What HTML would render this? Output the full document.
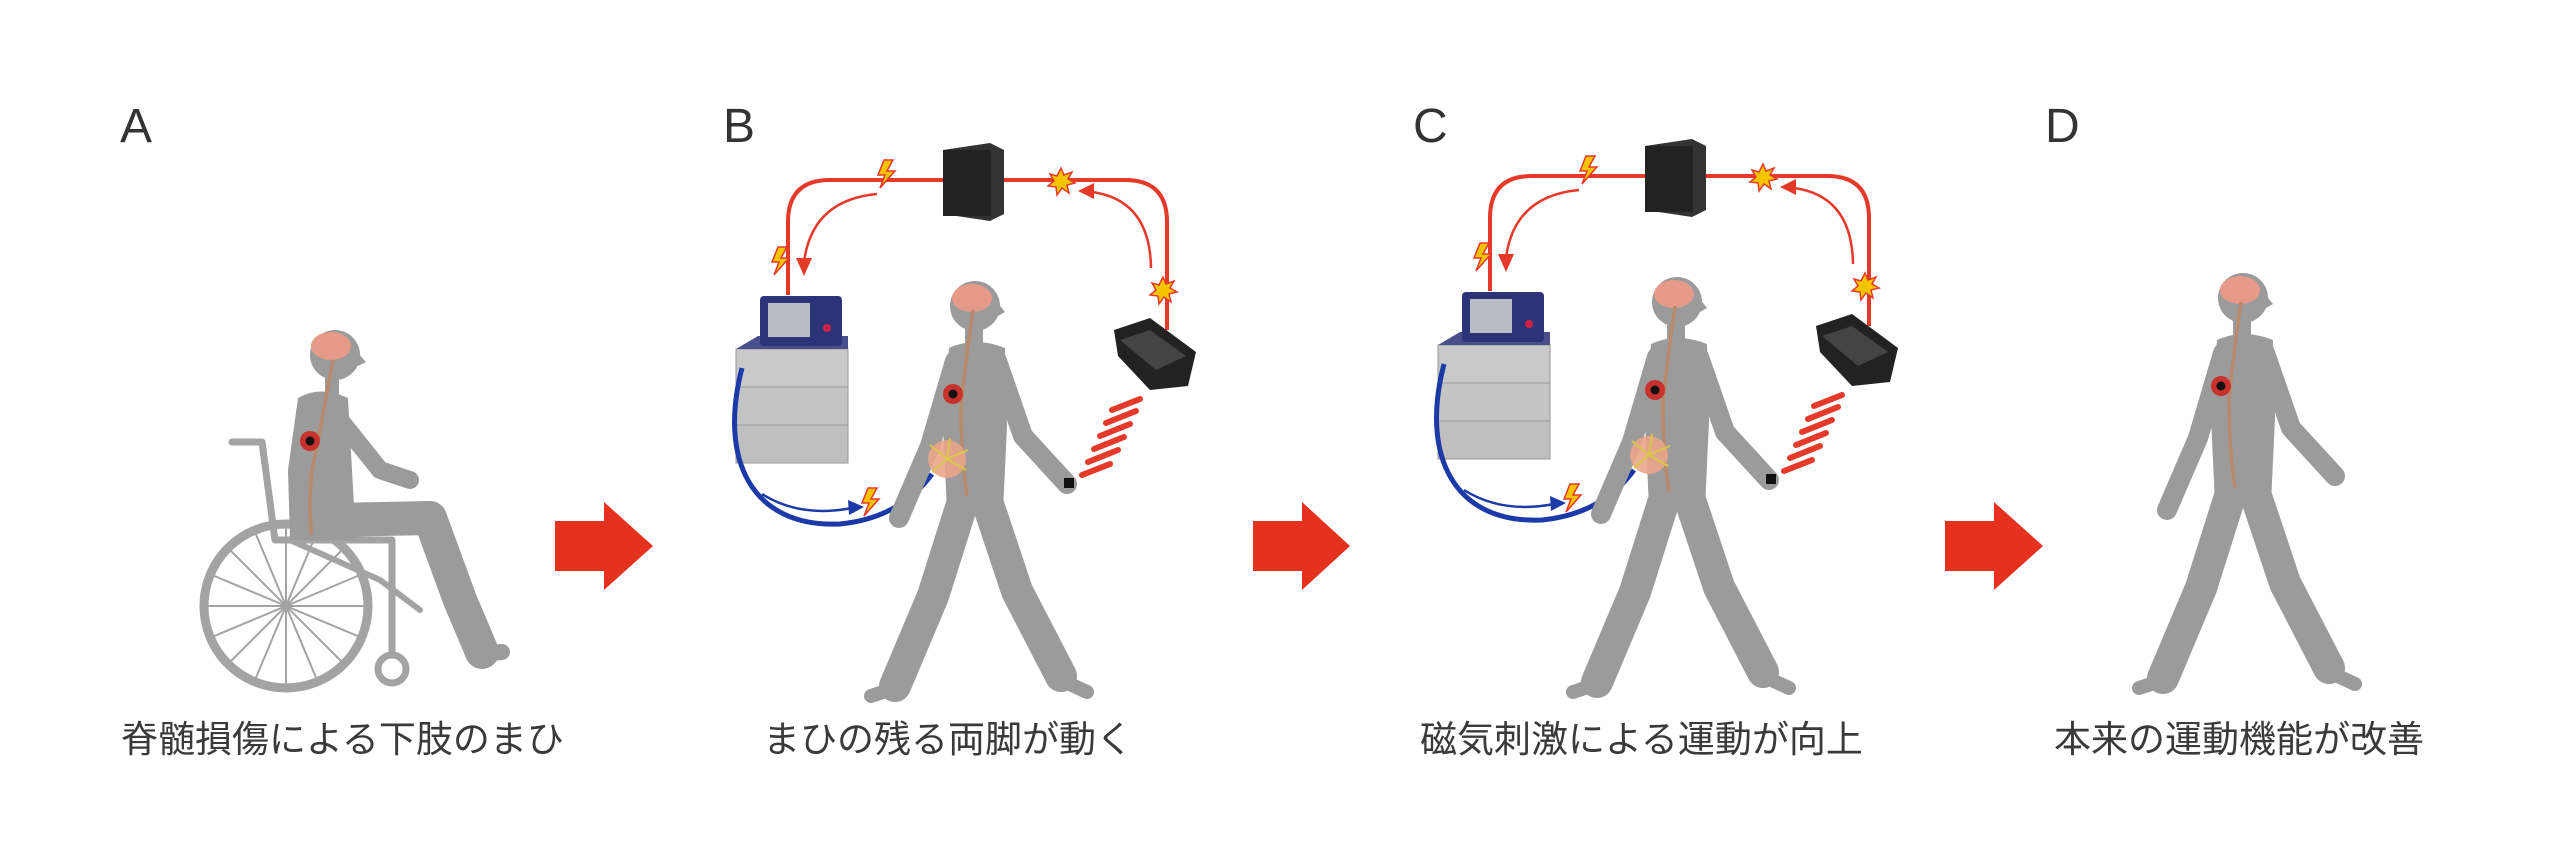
<!DOCTYPE html>
<html><head><meta charset="utf-8"><style>
html,body{margin:0;padding:0;background:#fff;}
body{width:2560px;height:856px;overflow:hidden;}
svg{display:block;}
.lbl{font-family:"Liberation Sans",sans-serif;font-size:48px;fill:#333;}
.cap{font-family:"Liberation Sans","Noto Sans CJK JP",sans-serif;font-size:37px;fill:#3a3a3a;}
</style></head><body>
<svg width="2560" height="856" viewBox="0 0 2560 856" xmlns="http://www.w3.org/2000/svg">
<defs>
<g id="walker">
  <g fill="none" stroke="#9b9b9b" stroke-linecap="round" stroke-linejoin="round">
    <polyline points="-20,55 -45,140 -76,212" stroke-width="20"/>
    <polyline points="-12,195 -42,290 -80,380" stroke-width="32"/>
    <polyline points="-80,382 -104,390" stroke-width="14"/>
    <polyline points="12,195 42,285 86,370" stroke-width="32"/>
    <polyline points="86,374 112,386" stroke-width="14"/>
    <polyline points="22,55 48,130 92,178" stroke-width="20"/>
  </g>
  <rect x="-10" y="15" width="18" height="30" fill="#9b9b9b"/>
  <path d="M-26,42 Q0,30 30,42 L32,120 L28,205 L-28,205 L-32,120 Z" fill="#9b9b9b"/>
  <circle cx="0" cy="0" r="25" fill="#9b9b9b"/>
  <path d="M22,-4 L30,6 L23,10 Z" fill="#9b9b9b"/>
  <ellipse cx="-3" cy="-8" rx="20" ry="14" fill="#e79a88"/>
  <path d="M-2,4 Q-10,60 -14,100 Q-14,150 -8,190" stroke="#b98a6c" stroke-width="3.5" fill="none"/>
  <circle cx="-22" cy="88" r="10" fill="#c8312c"/>
  <circle cx="-22" cy="88" r="4.5" fill="#111"/>
</g>
<g id="setup">
  <!-- red loop -->
  <path d="M788,295 L788,222 Q788,180 830,180 L1125,180 Q1167,180 1167,222 L1167,330" stroke="#e5392a" stroke-width="4" fill="none"/>
  <path d="M877,194 Q812,200 804,262" stroke="#e5392a" stroke-width="2.5" fill="none"/>
  <polygon points="796,258 812,258 804,276" fill="#e5392a"/>
  <path d="M1151,268 Q1150,200 1092,192" stroke="#e5392a" stroke-width="2.5" fill="none"/>
  <polygon points="1078,191 1094,183 1094,199" fill="#e5392a"/>
  <!-- server -->
  <polygon points="943,150 990,143 1004,150 1004,214 990,221 943,214" fill="#333"/>
  <rect x="943" y="150" width="48" height="66" fill="#222"/>
  <!-- stars -->
  <polygon points="1061,168 1064,175 1072,172 1068,179 1075,183 1067,185 1069,193 1062,188 1057,195 1056,187 1048,186 1054,181 1050,174 1057,176" fill="#f5c400" stroke="#e5392a" stroke-width="1.5"/>
  <polygon points="1163,277 1166,284 1174,281 1170,288 1177,292 1169,294 1171,302 1164,297 1159,304 1158,296 1150,295 1156,290 1152,283 1159,285" fill="#f5c400" stroke="#e5392a" stroke-width="1.5"/>
  <!-- lightning -->
  <polygon points="884,160 893,160 887,171 895,171 880,188 885,175 878,175" fill="#f5c400" stroke="#e5392a" stroke-width="1.5"/>
  <polygon points="778,247 787,247 781,258 789,258 774,275 779,262 772,262" fill="#f5c400" stroke="#e5392a" stroke-width="1.5"/>
  <!-- device stack -->
  <rect x="736" y="349" width="112" height="38" fill="#c9c9c9" stroke="#999"/>
  <rect x="736" y="387" width="112" height="38" fill="#c4c4c4" stroke="#999"/>
  <rect x="736" y="425" width="112" height="38" fill="#bfbfbf" stroke="#999"/>
  <polygon points="736,349 758,336 848,336 848,349" fill="#4a4e8a"/>
  <rect x="760" y="296" width="82" height="50" rx="4" fill="#2d3378"/>
  <rect x="768" y="303" width="42" height="34" fill="#b8bcc4"/>
  <circle cx="827" cy="328" r="4" fill="#c24"/>
  <!-- black case -->
  <polygon points="1114,330 1150,318 1196,352 1188,386 1150,390 1118,356" fill="#222"/>
  <polygon points="1120,340 1150,330 1186,356 1156,370" fill="#444"/>
  <!-- waves -->
  <g stroke="#e5392a" stroke-width="6" stroke-linecap="round">
    <line x1="1112" y1="410" x2="1140" y2="399"/>
    <line x1="1106" y1="423" x2="1136" y2="411"/>
    <line x1="1100" y1="436" x2="1130" y2="424"/>
    <line x1="1094" y1="449" x2="1124" y2="437"/>
    <line x1="1088" y1="462" x2="1118" y2="450"/>
    <line x1="1082" y1="475" x2="1110" y2="464"/>
  </g>
  <!-- blue arc -->
  <path d="M742,368 C718,460 752,528 840,524 Q900,518 932,474" stroke="#1b3aa8" stroke-width="5" fill="none"/>
  <path d="M762,494 Q800,518 852,508" stroke="#1b3aa8" stroke-width="2.5" fill="none"/>
  <polygon points="848,500 864,507 849,515" fill="#1b3aa8"/>
  <polygon points="868,488 877,488 871,499 879,499 864,516 869,503 862,503" fill="#f5c400" stroke="#e5392a" stroke-width="1.5"/>
  <!-- person -->
  <use href="#walker" transform="translate(975,306)"/>
  <circle cx="947" cy="459" r="19" fill="#eaa58a" opacity="0.9"/>
  <g stroke="#d8c84a" stroke-width="2" fill="none">
    <path d="M947,459 L930,445 M947,459 L968,450 M947,459 L932,472 M947,459 L966,470 M947,459 L950,438"/>
  </g>
  <rect x="1064" y="478" width="10" height="10" fill="#111"/>
</g>
</defs>

<!-- labels -->
<text class="lbl" x="120" y="142">A</text>
<text class="lbl" x="723" y="142">B</text>
<text class="lbl" x="1413" y="142">C</text>
<text class="lbl" x="2045" y="142">D</text>

<!-- A: wheelchair -->
<g fill="none" stroke="#a3a3a3" stroke-linecap="round" stroke-linejoin="round">
  <circle cx="286" cy="606" r="82" stroke-width="9"/>
  <g stroke-width="2">
    <line x1="286" y1="526" x2="286" y2="686"/><line x1="206" y1="606" x2="366" y2="606"/>
    <line x1="229" y1="549" x2="343" y2="663"/><line x1="343" y1="549" x2="229" y2="663"/>
    <line x1="255" y1="532" x2="317" y2="680"/><line x1="317" y1="532" x2="255" y2="680"/>
    <line x1="212" y1="575" x2="360" y2="637"/><line x1="360" y1="575" x2="212" y2="637"/>
  </g>
  <circle cx="392" cy="669" r="14" stroke-width="7"/>
  <polyline points="232,442 262,442 275,540 392,540 392,655" stroke-width="7"/>
  <polyline points="290,540 380,580 420,610" stroke-width="6"/>
  <!-- legs -->
  <polyline points="330,520 430,518 460,600 482,652" stroke="#9b9b9b" stroke-width="34"/>
  <polyline points="480,654 502,652" stroke="#9b9b9b" stroke-width="16"/>
  <polyline points="340,420 380,470 410,480" stroke="#9b9b9b" stroke-width="18"/>
</g>
<rect x="325" y="378" width="14" height="20" fill="#9b9b9b"/>
<path d="M298,398 Q320,385 348,398 L352,470 L356,540 L290,540 L288,470 Z" fill="#9b9b9b"/>
<circle cx="335" cy="355" r="25" fill="#9b9b9b"/>
<path d="M357,352 L366,362 L358,366 Z" fill="#9b9b9b"/>
<ellipse cx="331" cy="346" rx="20" ry="14" fill="#e79a88"/>
<path d="M333,360 Q322,420 312,470 Q308,510 312,535" stroke="#b98a6c" stroke-width="3.5" fill="none"/>
<circle cx="310" cy="441" r="10" fill="#c8312c"/><circle cx="310" cy="441" r="4.5" fill="#111"/>

<!-- arrows -->
<polygon points="555,521 604,521 604,502 653,546 604,590 604,571 555,571" fill="#e5321f"/>
<polygon points="1253,521 1302,521 1302,502 1350,546 1302,590 1302,571 1253,571" fill="#e5321f"/>
<polygon points="1945,521 1994,521 1994,502 2043,546 1994,590 1994,571 1945,571" fill="#e5321f"/>

<!-- B and C -->
<use href="#setup"/>
<use href="#setup" transform="translate(702,-4)"/>

<!-- D -->
<use href="#walker" transform="translate(2243,298)"/>

<!-- captions -->
<text class="cap" x="121" y="752">脊髄損傷による下肢のまひ</text>
<text class="cap" x="763" y="752">まひの残る両脚が動く</text>
<text class="cap" x="1420" y="752">磁気刺激による運動が向上</text>
<text class="cap" x="2054" y="752">本来の運動機能が改善</text>
</svg>
</body></html>
